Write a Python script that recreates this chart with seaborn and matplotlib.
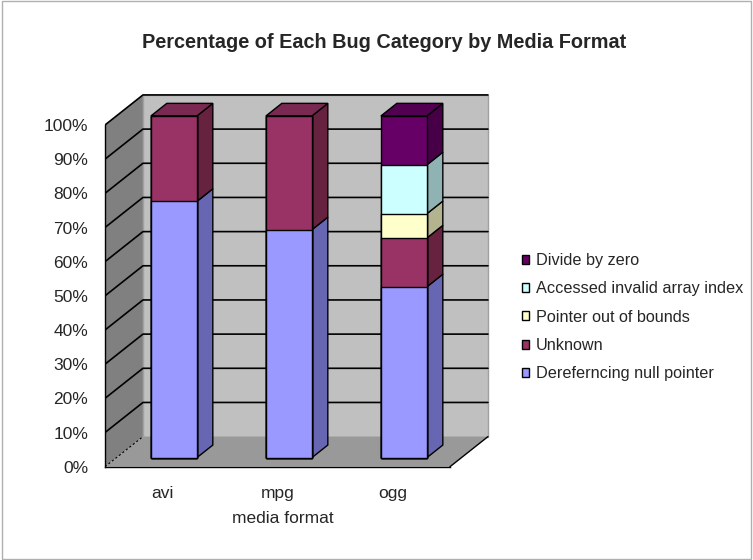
import seaborn as sns
import matplotlib.pyplot as plt
from matplotlib.patches import Polygon, Patch, Rectangle
import pandas as pd

# data (percent of bugs per media format)
formats = ["avi", "mpg", "ogg"]
categories = ["Dereferncing null pointer", "Unknown", "Pointer out of bounds",
              "Accessed invalid array index", "Divide by zero"]
deref = [75.0, 66.7, 50.0]
unknown = [25.0, 33.3, 14.3]
pointer_oob = [0.0, 0.0, 7.1]
invalid_index = [0.0, 0.0, 14.3]
div_zero = [0.0, 0.0, 14.3]

front_colors = ["#9999ff", "#993366", "#ffffcc", "#ccffff", "#660066"]
side_colors = ["#6666b3", "#66223f", "#b3b38f", "#8fb3b3", "#470047"]
top_colors = ["#7a7acc", "#7a2952", "#ccccA3", "#a3cccc", "#520052"]

series = [deref, unknown, pointer_oob, invalid_index, div_zero]

sns.set_style("white")
plt.rcParams["font.family"] = ["Liberation Sans", "DejaVu Sans"]

fig = plt.figure(figsize=(7.53, 5.6), dpi=100)
ax = fig.add_axes([105 / 753, 1 - 466.7 / 560, 385 / 753, 374.7 / 560])

# fake 3d depth
DX, DY = 0.33, 8.8
d0, d1 = 0.3, 0.72
bw = 0.4


def P(u, v, t):
    return (u + (t - d0) * DX, v + (t - d0) * DY)


# walls and floor
ax.add_patch(Polygon([P(-0.5, 0, 0), P(-0.5, 100, 0), P(-0.5, 100, 1), P(-0.5, 0, 1)],
                     closed=True, fc="#808080", ec="none", zorder=0))
ax.add_patch(Polygon([P(-0.5, 0, 1), P(2.5, 0, 1), P(2.5, 100, 1), P(-0.5, 100, 1)],
                     closed=True, fc="#c0c0c0", ec="#a0a0a0", lw=1, zorder=0))
ax.add_patch(Polygon([P(-0.5, 0, 0), P(2.5, 0, 0), P(2.5, 0, 1), P(-0.5, 0, 1)],
                     closed=True, fc="#999999", ec="none", zorder=0.5))
x0, y0 = P(2.5, 0, 0)
x1, y1 = P(2.5, 0, 1)
ax.plot([x0, x1], [y0, y1], color="black", lw=1, zorder=0.6)

# gridlines on back wall and side wall
for v in range(10, 101, 10):
    a, b, c = P(-0.5, v, 0), P(-0.5, v, 1), P(2.5, v, 1)
    ax.plot([a[0], b[0], c[0]], [a[1], b[1], c[1]], color="black", lw=1.2, zorder=0.4)
a, b = P(-0.5, 0, 0), P(-0.5, 0, 1)
ax.plot([a[0], b[0]], [a[1], b[1]], color="black", lw=0.8, ls=(0, (2, 2)), zorder=0.6)

# stacked bars, front faces via seaborn
cum = [0.0, 0.0, 0.0]
tops = []
for k, vals in enumerate(series):
    bottoms = list(cum)
    cum = [c + v for c, v in zip(cum, vals)]
    tops.append((bottoms, list(cum)))

for k in range(len(series) - 1, -1, -1):
    df = pd.DataFrame({"format": formats, "pct": tops[k][1]})
    sns.barplot(data=df, x="format", y="pct", color=front_colors[k], width=bw,
                saturation=1, errorbar=None, edgecolor="black", linewidth=1,
                ax=ax, zorder=2)

ddx, ddy = (d1 - d0) * DX, (d1 - d0) * DY
for k, vals in enumerate(series):
    bottoms, cums = tops[k]
    for i in range(len(formats)):
        if vals[i] <= 0:
            continue
        xr = i + bw / 2
        xl = i - bw / 2
        ax.add_patch(Polygon([(xr, bottoms[i]), (xr, cums[i]), (xr + ddx, cums[i] + ddy),
                              (xr + ddx, bottoms[i] + ddy)], closed=True,
                             fc=side_colors[k], ec="black", lw=1, zorder=1.5))
        if abs(cums[i] - 100) < 0.5:
            ax.add_patch(Polygon([(xl, cums[i]), (xr, cums[i]), (xr + ddx, cums[i] + ddy),
                                  (xl + ddx, cums[i] + ddy)], closed=True,
                                 fc=top_colors[k], ec="black", lw=1, zorder=1.5))

# axes
ox, oy = -d0 * DX, -d0 * DY
ax.set_xlim(-0.5 + ox, -0.5 + ox + 385 / 115)
ax.set_ylim(oy, oy + 374.7 / 3.417)
ax.set_yticks([v + oy for v in range(0, 101, 10)])
ax.set_yticklabels([f"{v}%" for v in range(0, 101, 10)], fontsize=12.5)
ax.set_xticks([i + ox for i in range(3)])
ax.set_xticklabels(formats, fontsize=12.5)
ax.set_xticks([-0.5 + ox + i for i in range(4)], minor=True)
ax.tick_params(axis="x", which="major", length=0, pad=14)
ax.tick_params(axis="x", which="minor", length=3.5, width=1, direction="out", color="black")
ax.tick_params(axis="y", length=3.5, width=1, direction="out", color="black", pad=8.5)
ax.set_xlabel("media format", fontsize=12.5, va="top")
ax.xaxis.set_label_coords((283 - 105) / 385, (466.7 - 511) / 374.7)
ax.set_ylabel("")
for s in ["top", "right"]:
    ax.spines[s].set_visible(False)
ax.spines["left"].set_bounds(oy, 100 + oy)
ax.spines["bottom"].set_bounds(-0.5 + ox, 2.5 + ox)
for s in ["left", "bottom"]:
    ax.spines[s].set_color("black")
    ax.spines[s].set_linewidth(1)
ax.patch.set_alpha(0)

fig.text(384 / 753, 1 - 43 / 560, "Percentage of Each Bug Category by Media Format",
         ha="center", va="center", fontsize=14.3, fontweight="bold")

handles = [Patch(fc=front_colors[k], ec="black", lw=1, label=categories[k])
           for k in range(len(categories) - 1, -1, -1)]
fig.legend(handles=handles, loc="upper left", bbox_to_anchor=(522 / 753, 1 - 253 / 560),
           frameon=False, fontsize=11.7, handlelength=0.45, handleheight=0.45,
           handletextpad=0.4, labelspacing=0.82, borderaxespad=0, borderpad=0)

fig.add_artist(Rectangle((0.002, 0.002), 0.996, 0.996, transform=fig.transFigure,
                         fill=False, ec="#b0b0b0", lw=1))

fig.savefig("out.png", dpi=100)
